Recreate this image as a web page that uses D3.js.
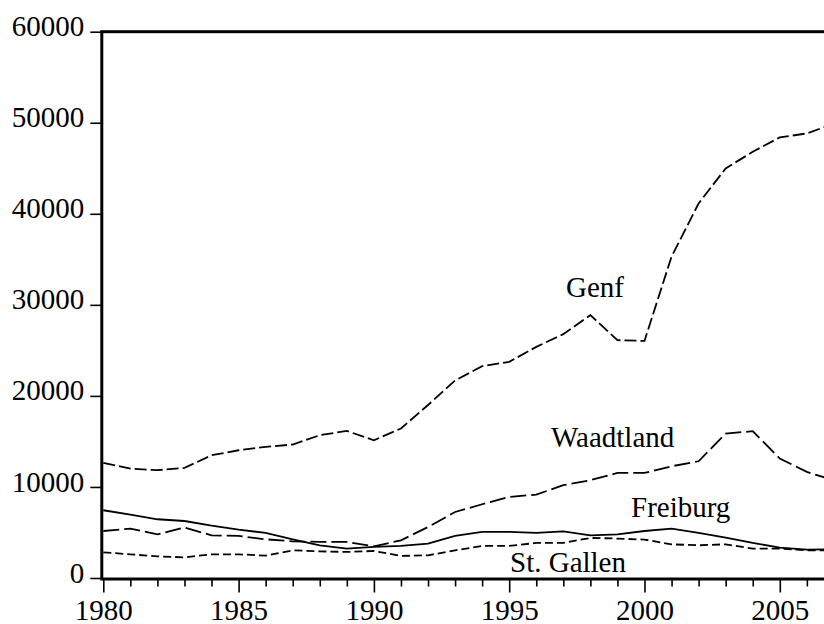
<!DOCTYPE html>
<html lang='en'>
<head>
<meta charset="utf-8">
<style>
body { margin: 0; background: #fff; }
svg { display: block; }
.axis line { stroke: #000; stroke-width: 1.6px; }
.axis path { display: none; }
path.line { fill: none; stroke: #000; stroke-width: 1.8px; }
.frame { fill: none; stroke: #000; stroke-width: 3px; }
</style>
</head>
<body>
<svg width="824" height="624"></svg>
<script src="https://cdn.jsdelivr.net/npm/d3@7"></script>
<script>
  var years = d3.range(1980, 2008);

  var genf = [12640, 12020, 11840, 12090, 13480, 14030, 14400, 14660, 15680, 16150,
              15130, 16420, 19000, 21700, 23260, 23740, 25380, 26780, 28870, 26120,
              26040, 35300, 41140, 44990, 46810, 48390, 48830, 49900];
  var waadtland = [5160, 5430, 4800, 5540, 4690, 4620, 4250, 4030, 3960, 3960,
                   3480, 4140, 5600, 7250, 8100, 8900, 9160, 10190, 10740, 11540,
                   11540, 12270, 12820, 15870, 16120, 13120, 11650, 10720];
  var freiburg = [7440, 6970, 6450, 6260, 5760, 5320, 4950, 4250, 3590, 3230,
                  3410, 3520, 3780, 4620, 5060, 5060, 4950, 5130, 4690, 4800,
                  5160, 5430, 4950, 4440, 3850, 3340, 3120, 3150];
  var stGallen = [2820, 2600, 2380, 2270, 2600, 2600, 2460, 3040, 2930, 2860,
                  2970, 2420, 2490, 3040, 3520, 3520, 3850, 3850, 4400, 4330,
                  4220, 3700, 3590, 3700, 3230, 3230, 3040, 3050];

  var yTicks = [0, 10000, 20000, 30000, 40000, 50000, 60000];

  var series = [
    {name: "Genf", values: genf, dash: "12,4", lx: 566, ly: 297},
    {name: "Waadtland", values: waadtland, dash: "16,5", lx: 551, ly: 447},
    {name: "Freiburg", values: freiburg, dash: null, lx: 631, ly: 517},
    {name: "St. Gallen", values: stGallen, dash: "8,4", lx: 510, ly: 572}
  ];

  var serif = "'Liberation Serif', 'Times New Roman', 'DejaVu Serif', serif";

  var svg = d3.select("svg");

  var x = d3.scaleLinear().domain([1980, 2007]).range([103.3, 103.3 + 27 * 27.06]),
      y = d3.scaleLinear().domain([0, 60000]).range([578, 31.7]);

  var line = d3.line()
      .x(function(d, i) { return x(years[i]); })
      .y(function(d) { return y(d); });

  series.forEach(function(s) {
    svg.append("path")
        .attr("class", "line")
        .attr("d", line(s.values))
        .attr("stroke-dasharray", s.dash);
    svg.append("text")
        .attr("x", s.lx)
        .attr("y", s.ly)
        .style("font-family", serif)
        .style("font-size", "29px")
        .style("fill", "#000")
        .text(s.name);
  });

  // frame
  svg.append("rect")
      .attr("class", "frame")
      .attr("x", x(1980) - 1.5)
      .attr("y", y(60000))
      .attr("width", x(2007) - x(1980) + 1.5)
      .attr("height", y(0) - y(60000) + 1);

  var yAxis = d3.axisLeft(y)
      .tickValues(yTicks)
      .tickSize(11)
      .tickPadding(6)
      .tickFormat(d3.format("d"));

  svg.append("g")
      .attr("class", "axis axis--y")
      .attr("transform", "translate(" + (x(1980) - 2) + ",0)")
      .call(yAxis)
      .attr("font-family", serif)
      .attr("font-size", 29)
      .selectAll("text")
      .attr("dy", "0.14em");

  var xAxis = d3.axisBottom(x)
      .tickValues(years)
      .tickSize(7)
      .tickFormat(function(d) { return d % 5 === 0 ? d : ""; });

  var gx = svg.append("g")
      .attr("class", "axis axis--x")
      .attr("transform", "translate(0," + (y(0) + 1.5) + ")")
      .call(xAxis)
      .attr("font-family", serif)
      .attr("font-size", 29);

  gx.selectAll(".tick line")
      .attr("y2", function(d) { return d % 5 === 0 ? 13 : 7; });
  gx.selectAll(".tick text")
      .attr("y", 40)
      .attr("dy", 0);
</script>
</body>
</html>
